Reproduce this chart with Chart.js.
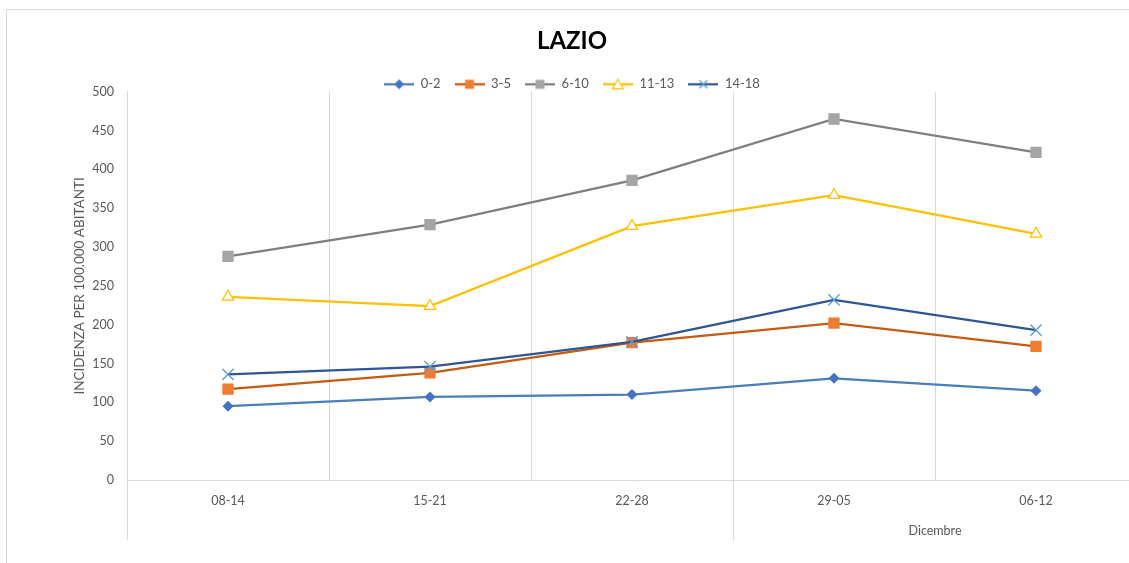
<!DOCTYPE html>
<html>
<head>
<meta charset="utf-8">
<script src="https://cdn.jsdelivr.net/npm/chart.js@4/dist/chart.umd.min.js"></script>
<style>
  html, body { margin: 0; padding: 0; background: #fff; overflow: hidden; }
  #wrap { position: absolute; left: 6px; top: 9px; width: 1140px; height: 570px; border: 1px solid #d9d9d9; }
</style>
</head>
<body>
<div id="wrap"><canvas id="lazioChart"></canvas></div>
<script>
const weeks = ["08-14", "15-21", "22-28", "29-05", "06-12"];
const yTicks = [0, 50, 100, 150, 200, 250, 300, 350, 400, 450, 500];
const age0_2 = [95, 107, 110, 131, 115];
const age3_5 = [117, 138, 177, 202, 172];
const age6_10 = [288, 329, 386, 465, 422];
const age11_13 = [236, 224, 327, 367, 317];
const age14_18 = [136, 146, 178, 232, 193];
const monthGroup = { label: "Dicembre", from: 3, to: 4 };

const grey = "#595959";
const font = "Lato, 'Noto Sans', sans-serif";

// small legend icon: line with the marker in the middle
function legendIcon(lineColor, marker, markerColor) {
    const c = document.createElement("canvas");
    c.width = 30; c.height = 14;
    const ctx = c.getContext("2d");
    ctx.strokeStyle = lineColor;
    ctx.lineWidth = 2.25;
    ctx.beginPath(); ctx.moveTo(0, 7); ctx.lineTo(30, 7); ctx.stroke();
    ctx.fillStyle = markerColor;
    ctx.strokeStyle = markerColor;
    if (marker === "diamond") {
        ctx.beginPath(); ctx.moveTo(15, 2); ctx.lineTo(20, 7); ctx.lineTo(15, 12); ctx.lineTo(10, 7); ctx.closePath(); ctx.fill();
    } else if (marker === "square") {
        ctx.fillRect(10.5, 2.5, 9, 9);
    } else if (marker === "triangle") {
        ctx.lineWidth = 1.25;
        ctx.fillStyle = "#fff";
        ctx.beginPath(); ctx.moveTo(15, 2); ctx.lineTo(20.5, 11.5); ctx.lineTo(9.5, 11.5); ctx.closePath(); ctx.fill(); ctx.stroke();
    } else if (marker === "cross") {
        ctx.lineWidth = 1.25;
        ctx.beginPath(); ctx.moveTo(11, 3); ctx.lineTo(19, 11); ctx.moveTo(19, 3); ctx.lineTo(11, 11); ctx.stroke();
    }
    return c;
}

const series = [
    { label: "0-2", data: age0_2, line: "#4a7ebb", mark: "#4472c4", style: "rectRot", r: 5.5, icon: "diamond" },
    { label: "3-5", data: age3_5, line: "#c55a11", mark: "#ed7d31", style: "rect", r: 8, icon: "square" },
    { label: "6-10", data: age6_10, line: "#7f7f7f", mark: "#a5a5a5", style: "rect", r: 8, icon: "square" },
    { label: "11-13", data: age11_13, line: "#ffc000", mark: "#ffc000", style: "triangle", r: 6.5, icon: "triangle" },
    { label: "14-18", data: age14_18, line: "#2f5597", mark: "#5b9bd5", style: "crossRot", r: 8, icon: "cross" }
];

const groupPlugin = {
    id: "groupPlugin",
    afterDraw(chart) {
        const x = chart.scales.x;
        const area = chart.chartArea;
        const ctx = chart.ctx;
        const half = (x.getPixelForValue(1) - x.getPixelForValue(0)) / 2;
        const divider = x.getPixelForValue(monthGroup.from) - half;
        ctx.save();
        ctx.strokeStyle = "#d9d9d9";
        ctx.lineWidth = 1;
        [area.left, divider].forEach(px => {
            const p = Math.round(px) + 0.5;
            ctx.beginPath(); ctx.moveTo(p, area.bottom); ctx.lineTo(p, area.bottom + 60); ctx.stroke();
        });
        ctx.fillStyle = grey;
        ctx.font = "12.5px " + font;
        ctx.textAlign = "center";
        ctx.textBaseline = "middle";
        const cx = (x.getPixelForValue(monthGroup.from) + x.getPixelForValue(monthGroup.to)) / 2;
        ctx.fillText(monthGroup.label, cx, area.bottom + 51);
        ctx.restore();
    }
};

new Chart(document.getElementById("lazioChart"), {
    type: "line",
    data: {
        labels: weeks,
        datasets: series.map((s, i) => ({
            label: s.label,
            data: s.data,
            borderColor: s.line,
            borderWidth: 2.25,
            backgroundColor: s.icon === "triangle" ? "#ffffff" : s.mark,
            pointBorderColor: s.mark,
            pointBackgroundColor: s.icon === "triangle" ? "#ffffff" : s.mark,
            pointBorderWidth: s.icon === "triangle" || s.icon === "cross" ? 1.25 : 0,
            pointStyle: s.style,
            pointRadius: s.r,
            pointHoverRadius: s.r,
            tension: 0,
            order: series.length - i,
            legendIcon: legendIcon(s.line, s.icon, s.mark)
        }))
    },
    options: {
        responsive: true,
        maintainAspectRatio: false,
        animation: false,
        layout: { padding: { left: 0, right: 10, top: 0, bottom: 0 } },
        plugins: {
            title: {
                display: true,
                text: "LAZIO",
                color: "#000",
                font: { family: font, size: 24, weight: "bold" },
                padding: { top: 17, bottom: 8 }
            },
            legend: {
                display: true,
                maxHeight: 28,
                labels: {
                    color: grey,
                    font: { family: font, size: 13 },
                    padding: 14,
                    usePointStyle: true,
                    pointStyleWidth: 30,
                    generateLabels(chart) {
                        return chart.data.datasets.map((d, i) => ({
                            text: d.label,
                            fillStyle: d.borderColor,
                            strokeStyle: d.borderColor,
                            fontColor: grey,
                            pointStyle: d.legendIcon,
                            hidden: false,
                            datasetIndex: i
                        }));
                    }
                }
            },
            tooltip: { enabled: false }
        },
        scales: {
            x: {
                offset: true,
                grid: { offset: true, color: "#d9d9d9", drawTicks: false },
                border: { color: "#d9d9d9" },
                ticks: { color: grey, font: { family: font, size: 12.5 }, padding: 13 },
                afterFit(scale) { scale.height = 100; }
            },
            y: {
                min: 0,
                max: 500,
                afterBuildTicks(scale) { scale.ticks = yTicks.map(v => ({ value: v })); },
                grid: { display: false, drawTicks: false },
                border: { display: true, color: "#d9d9d9" },
                ticks: { color: grey, font: { family: font, size: 12.5 }, padding: 13 },
                title: {
                    display: true,
                    text: "INCIDENZA PER 100.000 ABITANTI",
                    color: grey,
                    font: { family: font, size: 13.5 },
                    padding: { top: 65, bottom: 0 }
                },
                afterFit(scale) { scale.width = 120; }
            }
        }
    },
    plugins: [groupPlugin]
});
</script>
</body>
</html>
